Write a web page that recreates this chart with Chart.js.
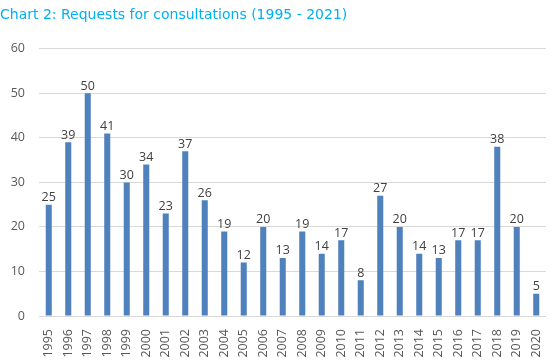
<!DOCTYPE html>
<html><head><meta charset="utf-8">
<script src="https://cdn.jsdelivr.net/npm/chart.js@4"></script>
<style>html,body{margin:0;padding:0;background:#fff}#w{width:554px;height:364px}</style>
</head><body><div id="w"><canvas id="c"></canvas></div>
<script>
const years = ["1995","1996","1997","1998","1999","2000","2001","2002","2003","2004","2005","2006","2007","2008","2009","2010","2011","2012","2013","2014","2015","2016","2017","2018","2019","2020"];
const requests = [25,39,50,41,30,34,23,37,26,19,12,20,13,19,14,17,8,27,20,14,13,17,17,38,20,5];
const yTicks = [0,10,20,30,40,50,60];
const FONT = '"Open Sans", sans-serif';

const labelPlugin = {
  id: 'vlabels',
  afterDatasetsDraw(chart) {
    const ctx = chart.ctx;
    const meta = chart.getDatasetMeta(0);
    ctx.save();
    ctx.font = '12.5px ' + FONT;
    ctx.fillStyle = '#404040';
    ctx.textAlign = 'center';
    ctx.textBaseline = 'bottom';
    meta.data.forEach((bar, i) => {
      ctx.fillText(String(requests[i]), bar.x, bar.y - 1);
    });
    ctx.restore();
  }
};

new Chart(document.getElementById('c'), {
  type: 'bar',
  data: { labels: years, datasets: [{ data: requests, backgroundColor: '#4f81bd', barPercentage: 0.31, categoryPercentage: 1.0 }] },
  options: {
    responsive: true, maintainAspectRatio: false, animation: false,
    layout: { padding: { left: 0, right: 8, top: 0, bottom: 0 } },
    plugins: {
      legend: { display: false }, tooltip: { enabled: false },
      title: { display: true, text: 'Chart 2: Requests for consultations (1995 - 2021)', align: 'start', color: '#00b0f0',
        font: { family: '"DejaVu Sans", sans-serif', size: 14, weight: 'normal' }, padding: { top: 7, bottom: 25 } }
    },
    scales: {
      x: {
        grid: { display: false, drawTicks: false }, border: { display: false },
        ticks: { color: '#595959', font: { family: FONT, size: 12.5 }, minRotation: 90, maxRotation: 90, autoSkip: false, padding: 13 },
        afterFit(s) { s.height = 48; s.paddingLeft = 0; s.paddingRight = 0; }
      },
      y: {
        min: 0, max: 60,
        afterBuildTicks(s) { s.ticks = yTicks.map(v => ({ value: v })); },
        grid: { color: '#d9d9d9', drawTicks: false }, border: { display: false },
        ticks: { color: '#595959', font: { family: FONT, size: 12.5 }, padding: 14 },
        afterFit(s) { s.width = 39; }
      }
    }
  },
  plugins: [labelPlugin]
});
</script></body></html>
